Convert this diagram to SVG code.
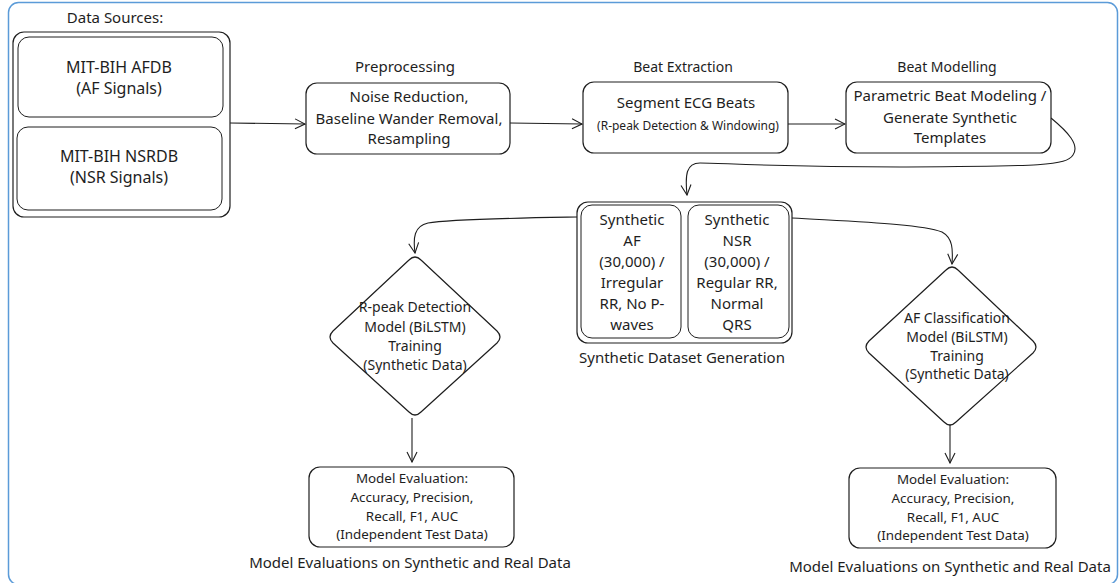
<svg xmlns="http://www.w3.org/2000/svg" width="1119" height="583" viewBox="0 0 1119 583">
  <style>
    text { font-family: "Noto Sans", "Open Sans", sans-serif; fill: #1e1e1e; text-anchor: middle; }
    .box { fill: #ffffff; stroke: #1e1e1e; stroke-width: 1.2; }
    .inner { fill: #ffffff; stroke: #1e1e1e; stroke-width: 1; }
    .edge { fill: none; stroke: #1e1e1e; stroke-width: 1.1; marker-end: url(#arrow); }
    .t16 { font-size: 16px; }
    .t15 { font-size: 15px; }
    .t14 { font-size: 14px; }
    .t13 { font-size: 13.4px; }
    .t12 { font-size: 12px; }
  </style>
  <defs>
    <marker id="arrow" viewBox="0 0 12 12" refX="11" refY="6" markerWidth="12" markerHeight="12" markerUnits="userSpaceOnUse" orient="auto">
      <path d="M1,1 L11,6 L1,11" fill="none" stroke="#1e1e1e" stroke-width="1.1"/>
    </marker>
  </defs>

  <rect width="1119" height="583" fill="#ffffff"/>
  <!-- outer frame -->
  <rect x="8.5" y="2.5" width="1109" height="582" rx="10" fill="none" stroke="#5b9bd8" stroke-width="1.5"/>

  <!-- connectors -->
  <g id="connectors">
    <path class="edge" d="M230,123 L305,124"/>
    <path class="edge" d="M510,123 L582,124"/>
    <path class="edge" d="M788,124 L845,124"/>
    <path class="edge" d="M1051,118 C1068,132 1080,145 1073,155 C1066,166 1040,166 900,167 C780,167 720,163 700,163 C686,163 685,175 687,195"/>
    <path class="edge" d="M577,217 C520,218 450,219 428,223 C414,226 413,238 415,253"/>
    <path class="edge" d="M792,218 C860,222 920,224 942,232 C953,238 953,250 952,264"/>
    <path class="edge" d="M412,418 L412,462"/>
    <path class="edge" d="M950,413 L950,463"/>
  </g>

  <!-- data sources -->
  <g id="data-sources">
    <text class="t15" x="115" y="23">Data Sources:</text>
    <rect class="box" x="13" y="32" width="217" height="185" rx="11"/>
    <g id="afdb">
      <rect class="inner" x="18" y="37" width="205" height="80" rx="11"/>
      <text class="t16" x="119" y="73">MIT-BIH AFDB</text>
      <text class="t16" x="119" y="94">(AF Signals)</text>
    </g>
    <g id="nsrdb">
      <rect class="inner" x="17" y="127" width="205" height="83" rx="11"/>
      <text class="t16" x="119" y="162">MIT-BIH NSRDB</text>
      <text class="t16" x="119" y="183">(NSR Signals)</text>
    </g>
  </g>

  <!-- preprocessing -->
  <g id="preprocessing">
    <text class="t15" x="405" y="72">Preprocessing</text>
    <rect class="box" x="306" y="83" width="204" height="71" rx="11"/>
    <text class="t15" x="409" y="102">Noise Reduction,</text>
    <text class="t15" x="409" y="124">Baseline Wander Removal,</text>
    <text class="t15" x="409" y="144">Resampling</text>
  </g>

  <!-- beat extraction -->
  <g id="beat-extraction">
    <text class="t14" x="683" y="72">Beat Extraction</text>
    <rect class="box" x="583" y="82" width="205" height="71" rx="11"/>
    <text class="t15" x="686" y="108">Segment ECG Beats</text>
    <text class="t12" x="688" y="130">(R-peak Detection &amp; Windowing)</text>
  </g>

  <!-- beat modelling -->
  <g id="beat-modelling">
    <text class="t14" x="947" y="72">Beat Modelling</text>
    <rect class="box" x="846" y="82" width="205" height="71" rx="11"/>
    <text class="t15" x="950" y="101">Parametric Beat Modeling /</text>
    <text class="t15" x="950" y="123">Generate Synthetic</text>
    <text class="t15" x="950" y="143">Templates</text>
  </g>

  <!-- synthetic dataset -->
  <g id="synthetic-dataset">
    <rect class="box" x="577" y="202" width="215" height="141" rx="11"/>
    <g id="synthetic-af">
      <rect class="inner" x="581" y="205" width="100" height="133" rx="11"/>
      <text class="t15" x="632" y="225">Synthetic</text>
      <text class="t15" x="632" y="246">AF</text>
      <text class="t15" x="632" y="267">(30,000) /</text>
      <text class="t15" x="632" y="288">Irregular</text>
      <text class="t15" x="632" y="309">RR, No P-</text>
      <text class="t15" x="632" y="330">waves</text>
    </g>
    <g id="synthetic-nsr">
      <rect class="inner" x="688" y="205" width="101" height="133" rx="11"/>
      <text class="t15" x="737" y="225">Synthetic</text>
      <text class="t15" x="737" y="246">NSR</text>
      <text class="t15" x="737" y="267">(30,000) /</text>
      <text class="t15" x="737" y="288">Regular RR,</text>
      <text class="t15" x="737" y="309">Normal</text>
      <text class="t15" x="737" y="330">QRS</text>
    </g>
    <text class="t15" x="682" y="363">Synthetic Dataset Generation</text>
  </g>

  <!-- r-peak model -->
  <g id="rpeak-model">
    <path class="box" d="M409,260 Q415,254 421,260 L497,331 Q503,337 497,343 L421,412 Q415,418 409,412 L333,343 Q327,337 333,331 Z"/>
    <text class="t14" x="415" y="312">R-peak Detection</text>
    <text class="t14" x="415" y="332">Model (BiLSTM)</text>
    <text class="t14" x="415" y="351">Training</text>
    <text class="t14" x="415" y="370">(Synthetic Data)</text>
  </g>

  <!-- af classification model -->
  <g id="af-model">
    <path class="box" d="M946,270 Q952,264 958,270 L1033,341 Q1039,347 1033,353 L956,422 Q950,428 944,422 L869,353 Q863,347 869,341 Z"/>
    <text class="t14" x="957" y="323">AF Classification</text>
    <text class="t14" x="957" y="342">Model (BiLSTM)</text>
    <text class="t14" x="957" y="361">Training</text>
    <text class="t14" x="957" y="379">(Synthetic Data)</text>
  </g>

  <!-- evaluation left -->
  <g id="eval-left">
    <rect class="box" x="309" y="467" width="205" height="80" rx="11"/>
    <text class="t13" x="412" y="483">Model Evaluation:</text>
    <text class="t13" x="412" y="502">Accuracy, Precision,</text>
    <text class="t13" x="412" y="521">Recall, F1, AUC</text>
    <text class="t13" x="412" y="539">(Independent Test Data)</text>
    <text class="t15" x="410" y="568">Model Evaluations on Synthetic and Real Data</text>
  </g>

  <!-- evaluation right -->
  <g id="eval-right">
    <rect class="box" x="849" y="468" width="207" height="80" rx="11"/>
    <text class="t13" x="953" y="484">Model Evaluation:</text>
    <text class="t13" x="953" y="503">Accuracy, Precision,</text>
    <text class="t13" x="953" y="522">Recall, F1, AUC</text>
    <text class="t13" x="953" y="540">(Independent Test Data)</text>
    <text class="t15" x="950" y="572">Model Evaluations on Synthetic and Real Data</text>
  </g>
</svg>
